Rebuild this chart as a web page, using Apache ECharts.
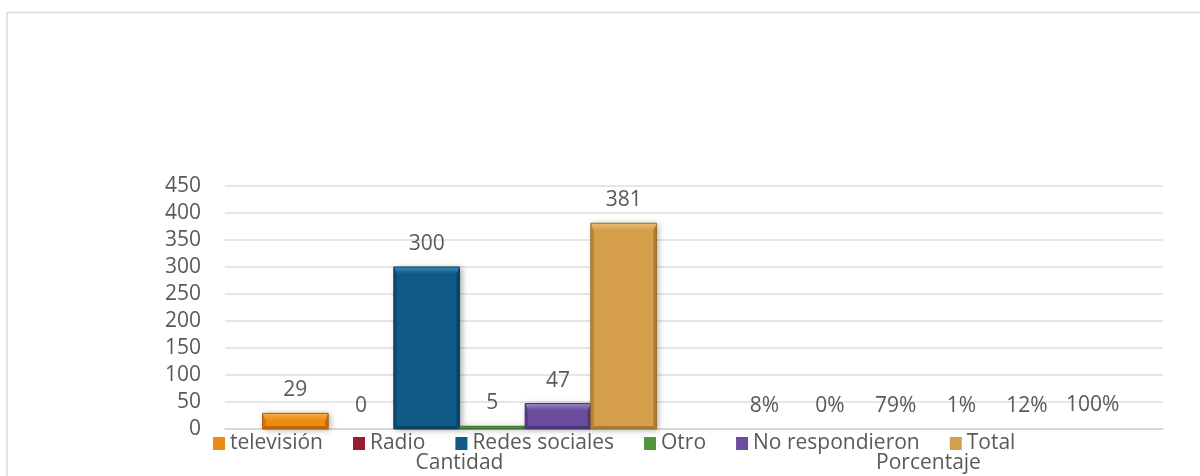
<!DOCTYPE html>
<html>
<head>
<meta charset="utf-8">
<title>Medios de información</title>
<script src="https://cdn.jsdelivr.net/npm/echarts@6/dist/echarts.min.js"></script>
<style>
  html, body { margin: 0; padding: 0; background: #ffffff; }
  #chart { width: 1200px; height: 476px; }
</style>
</head>
<body>
<div id="chart"></div>
<script>
// Survey results: count and share of each information medium
const categories = ['Cantidad', 'Porcentaje'];
const seriesNames = ['televisión', 'Radio', 'Redes sociales', 'Otro', 'No respondieron', 'Total'];
const cantidad = [29, 0, 300, 5, 47, 381];
const porcentaje = [0.08, 0, 0.79, 0.01, 0.12, 1.00];
const yMin = 0, yMax = 450, yStep = 50;

// Bevelled bar colours: face, highlight (top bevel), shade (sides/bottom)
const palette = [
  { base: '#EE8912', light: '#F8AE47', dark: '#B0600A' },
  { base: '#9A1B2E', light: '#D2495D', dark: '#66101E' },
  { base: '#0F5A86', light: '#3A88B8', dark: '#093E5E' },
  { base: '#4E983B', light: '#86C36E', dark: '#316624' },
  { base: '#6A4D9D', light: '#9C84CC', dark: '#473270' },
  { base: '#D69F4C', light: '#E9BD74', dark: '#9C7030' }
];

const TEXT = '#595959';
const FONT = '"Open Sans", "Noto Sans", sans-serif';
const FONT_SIZE = 21;
const GROUP_FILL = 0.84;   // share of each category band used by the bar group

function formatValue(cat, val) {
  return cat === 0 ? String(val) : Math.round(val * 100) + '%';
}

function makeRender(k) {
  const pal = palette[k];
  return function (params, api) {
    const cat = api.value(0);
    const val = api.value(1);
    const band = api.size([1, 0])[0];
    const groupW = band * GROUP_FILL;
    const bw = groupW / seriesNames.length;
    const topPt = api.coord([cat, val]);
    const basePt = api.coord([cat, 0]);
    const x0 = topPt[0] - groupW / 2 + k * bw;
    const x1 = x0 + bw;
    const y0 = topPt[1];
    const y1 = basePt[1];
    const h = y1 - y0;
    const children = [];

    if (h >= 1) {
      const t = Math.min(7, h * 0.45);
      const s = Math.min(3, h * 0.3);
      children.push({
        type: 'rect',
        shape: { x: x0, y: y0, width: bw, height: h },
        style: {
          fill: pal.base,
          shadowBlur: 6, shadowOffsetX: 2, shadowOffsetY: 1,
          shadowColor: 'rgba(0,0,0,0.35)'
        }
      });
      // side and bottom shading
      children.push({
        type: 'polygon',
        shape: { points: [[x0, y0], [x0 + s, y0 + t], [x0 + s, y1 - s], [x0, y1]] },
        style: { fill: pal.dark, opacity: 0.55 }
      });
      children.push({
        type: 'polygon',
        shape: { points: [[x1, y0], [x1 - s, y0 + t], [x1 - s, y1 - s], [x1, y1]] },
        style: { fill: pal.dark, opacity: 0.75 }
      });
      children.push({
        type: 'polygon',
        shape: { points: [[x0, y1], [x0 + s, y1 - s], [x1 - s, y1 - s], [x1, y1]] },
        style: { fill: pal.dark, opacity: 0.8 }
      });
      // top highlight
      children.push({
        type: 'polygon',
        shape: { points: [[x0, y0], [x1, y0], [x1 - s, y0 + t], [x0 + s, y0 + t]] },
        style: {
          fill: new echarts.graphic.LinearGradient(0, 0, 0, 1, [
            { offset: 0, color: pal.light },
            { offset: 1, color: pal.base }
          ])
        }
      });
      children.push({
        type: 'rect',
        shape: { x: x0, y: y0, width: bw, height: h },
        style: { fill: null, stroke: pal.dark, lineWidth: 1 }
      });
    }

    children.push({
      type: 'text',
      style: {
        text: formatValue(cat, val),
        x: (x0 + x1) / 2,
        y: y0 - 23,
        align: 'center',
        verticalAlign: 'middle',
        fill: TEXT,
        fontSize: FONT_SIZE,
        fontFamily: FONT
      }
    });

    return { type: 'group', children: children };
  };
}

const series = seriesNames.map(function (name, k) {
  return {
    name: name,
    type: 'custom',
    renderItem: makeRender(k),
    clip: false,
    itemStyle: { color: palette[k].base },
    encode: { x: 0, y: 1 },
    data: [[0, cantidad[k]], [1, porcentaje[k]]]
  };
});

const chart = echarts.init(document.getElementById('chart'), null, { renderer: 'canvas' });

chart.setOption({
  animation: false,
  backgroundColor: '#ffffff',
  textStyle: { fontFamily: FONT },
  graphic: [{
    type: 'rect',
    z: -10,
    silent: true,
    shape: { x: 7, y: 12.5, width: 1250, height: 520 },
    style: { fill: null, stroke: '#d9d9d9', lineWidth: 1.5 }
  }],
  grid: { left: 225, right: 37, top: 186, bottom: 47 },
  legend: {
    data: seriesNames,
    left: 213,
    top: 433,
    padding: 0,
    itemWidth: 12,
    itemHeight: 13,
    itemGap: 30,
    icon: 'rect',
    textStyle: { color: TEXT, fontSize: FONT_SIZE, fontFamily: FONT }
  },
  xAxis: {
    type: 'category',
    data: categories,
    axisTick: { show: false },
    axisLine: { lineStyle: { color: '#d4d4d4', width: 1.5 } },
    axisLabel: { color: TEXT, fontSize: FONT_SIZE, fontFamily: FONT, margin: 24 }
  },
  yAxis: {
    type: 'value',
    min: yMin,
    max: yMax,
    interval: yStep,
    axisLine: { show: false },
    axisTick: { show: false },
    splitLine: { lineStyle: { color: '#dedede', width: 1.5 } },
    axisLabel: { color: TEXT, fontSize: FONT_SIZE, fontFamily: FONT, margin: 24 }
  },
  series: series
});
</script>
</body>
</html>
